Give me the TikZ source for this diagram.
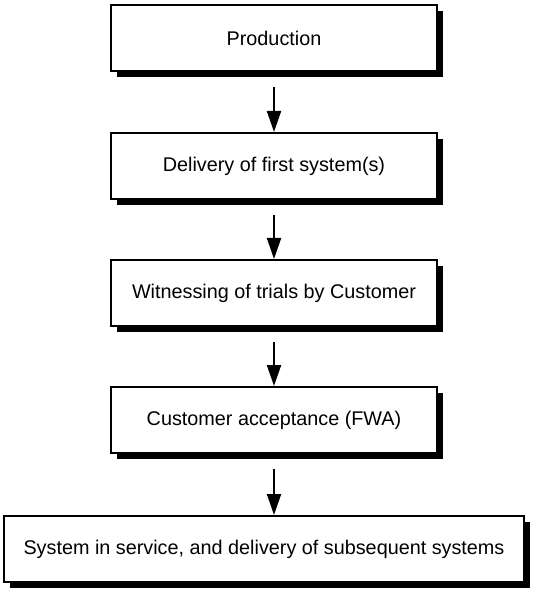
\documentclass[tikz,border=0pt]{standalone}
\usepackage{fontspec}
\setmainfont{Liberation Sans}
\usetikzlibrary{arrows.meta, positioning, shadows}

\begin{document}
\begin{tikzpicture}[x=1pt,y=-1pt,
  every node/.style={font=\fontsize{19.8}{24}\selectfont},
  stage/.style={draw,line width=2pt,fill=white,minimum height=66pt,
    drop shadow={shadow xshift=6pt,shadow yshift=-6pt,fill=black,opacity=1}},
  flow/.style={-{Triangle[length=21pt,width=14pt]},line width=2pt}]
  \useasboundingbox (0,0) rectangle (543,593);
  \foreach \r/\y/\v in {1/38/Production,2/166/Delivery of first system(s),3/293/Witnessing of trials by Customer,4/420/Customer acceptance (FWA)}{
    \node[stage,minimum width=326pt] (s\r) at (274,\y) {\v};
  }
  \node[stage,minimum width=520pt] (s5) at (264,549) {System in service, and delivery of subsequent systems};
  \foreach \a/\b in {1/2,2/3,3/4}{
    \draw[flow] ([yshift=-15pt]s\a.south) -- (s\b.north);
  }
  \draw[flow] ([yshift=-15pt]s4.south) -- (s4.south |- s5.north);
\end{tikzpicture}
\end{document}
